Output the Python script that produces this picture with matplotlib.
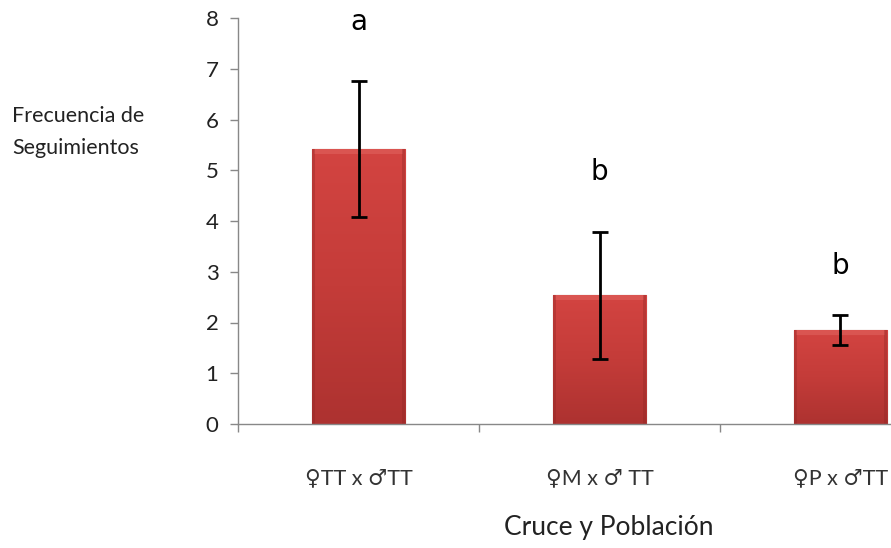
import matplotlib
matplotlib.use("Agg")
import matplotlib.pyplot as plt
import numpy as np
from matplotlib.colors import LinearSegmentedColormap

plt.rcParams["font.family"] = ["Lato", "DejaVu Sans"]

crosses = ["\u2640TT x \u2642TT", "\u2640M x \u2642 TT", "\u2640P x \u2642TT"]
means = [5.42, 2.54, 1.85]
errors = [1.34, 1.25, 0.30]
letters = ["a", "b", "b"]
letter_y = [7.92, 4.97, 3.12]
y_ticks = [0, 1, 2, 3, 4, 5, 6, 7, 8]

BAR_W = 0.39
grad = LinearSegmentedColormap.from_list("bar", ["#ad3230", "#c43c39", "#d34441"])


def shaded_bars(ax, x, heights, width):
    bars = ax.bar(x, heights, width=width, color="#c23b38", edgecolor="#8e2624",
                  linewidth=0.8, zorder=2)
    g = np.linspace(0, 1, 256).reshape(-1, 1)
    for b in bars:
        x0, y0 = b.get_x(), b.get_y()
        w, h = b.get_width(), b.get_height()
        im = ax.imshow(g, cmap=grad, origin="lower", aspect="auto",
                       extent=(x0, x0 + w, y0, y0 + h), zorder=2.1)
        im.set_clip_path(b)
        # bevel: lighter top edge, darker sides
        ax.fill_between([x0 + w * 0.03, x0 + w * 0.97], y0 + h - 0.1, y0 + h,
                        color="#e0625d", alpha=0.6, linewidth=0, zorder=2.2)
        for sx in (x0, x0 + w * 0.96):
            ax.fill_between([sx, sx + w * 0.04], y0, y0 + h,
                            color="#8e2624", alpha=0.35, linewidth=0, zorder=2.2)
    return bars


fig = plt.figure(figsize=(8.91, 5.48), dpi=100)
ax = fig.add_axes([238 / 891, 124 / 548, 723 / 891, 406 / 548])

x = np.arange(len(crosses))
shaded_bars(ax, x, means, BAR_W)
ax.errorbar(x, means, yerr=errors, fmt="none", ecolor="black", elinewidth=2,
            capsize=6, capthick=2, zorder=3)

for xi, lab, ly in zip(x, letters, letter_y):
    ax.text(xi, ly, lab, ha="center", va="center", fontsize=20,
            family="DejaVu Sans", color="black")

ax.set_xlim(-0.5, 2.5)
ax.set_ylim(0, 8)
ax.set_yticks(y_ticks)
ax.tick_params(axis="y", labelsize=16, length=6, width=1, color="#888888",
               labelcolor="#222222", pad=8)

ax.set_xticks(x)
ax.set_xticklabels(crosses, fontsize=15.5, color="#333333")
ax.set_xticks([-0.5, 0.5, 1.5], minor=True)
ax.tick_params(axis="x", which="major", length=0, pad=32)
ax.tick_params(axis="x", which="minor", length=6, width=1, color="#888888")

for side in ["top", "right"]:
    ax.spines[side].set_visible(False)
for side in ["left", "bottom"]:
    ax.spines[side].set_color("#888888")
    ax.spines[side].set_linewidth(1)

fig.text(12 / 891, 1 - 132 / 548, "Frecuencia de\nSeguimientos", ha="left",
         va="center", fontsize=15.5, color="#222222", linespacing=1.7)
fig.text(609 / 891, 1 - 528 / 548, "Cruce y Poblaci\u00f3n", ha="center",
         va="center", fontsize=19, color="#222222")

fig.savefig("out.png", dpi=100)
